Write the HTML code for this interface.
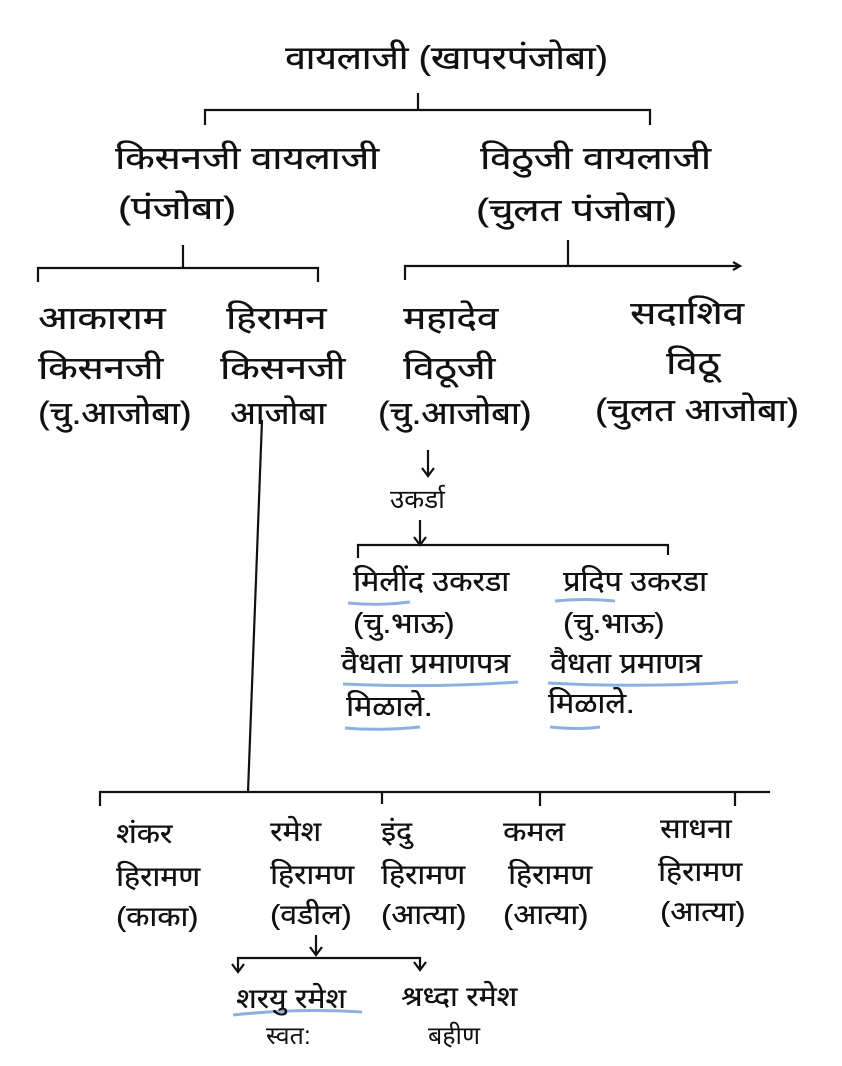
<!DOCTYPE html>
<html><head><meta charset="utf-8"><style>
html,body{margin:0;padding:0;background:#fff;}
body{width:842px;height:1066px;position:relative;overflow:hidden;font-family:"Liberation Sans",sans-serif;color:#111;}
.t{position:absolute;white-space:nowrap;font-size:28px;line-height:34px;transform-origin:0 50%;}
.u{font-size:32px;line-height:38px;transform:scaleX(1.2);text-shadow:0.4px 0 0 #111;}
.m{font-size:29px;transform:scaleX(1.05);text-shadow:0.4px 0 0 #111;}
.l{font-size:28px;transform:scaleX(1.08);text-shadow:0.3px 0 0 #111;}
.b{font-size:33px;line-height:40px;transform:scaleX(1.12);text-shadow:0.4px 0 0 #111;}
svg{position:absolute;left:0;top:0;}
</style></head><body>
<svg width="842" height="1066" stroke="#111" stroke-width="2.2" fill="none">
<path d="M205 125 V110 H650 V125 M418 110 V93"/>
<path d="M38 282 V268 H318 V282 M183 268 V245"/>
<path d="M405 280 V266 H740 M568 266 V240 M733 262 l7 4 -7 4"/>
<path d="M428 450 V476 M422 468 l6 8 6 -8"/>
<path d="M358 558 V545 H668 V555 M420 520 V545 M414 537 l6 8 6 -8"/>
<path d="M262 420 L248 792"/>
<path d="M100 806 V792 H770 M540 792 V806 M735 792 V806 M382 792 V804"/>
<path d="M316 935 V955 M310 947 l6 8 6 -8"/>
<path d="M238 972 V958 H420 V970 M232 964 l6 8 6-8 M414 962 l6 8 6-8"/>
<g stroke="#5b8fd6" stroke-width="3" opacity="0.7">
<path d="M348 603 Q380 606 410 602"/>
<path d="M555 601 Q585 598 615 601"/>
<path d="M343 684 Q430 688 518 682"/>
<path d="M548 683 Q640 688 738 682"/>
<path d="M345 728 Q380 731 420 727"/>
<path d="M550 727 Q580 730 600 727"/>
<path d="M233 1015 Q300 1008 362 1012"/>
</g>
</svg>
<div class="t b" style="left:285px;top:38px;">वायलाजी (खापरपंजोबा)</div>
<div class="t u" style="left:115px;top:139px;">किसनजी वायलाजी</div>
<div class="t u" style="left:118px;top:189px;">(पंजोबा)</div>
<div class="t u" style="left:480px;top:139px;">विठुजी वायलाजी</div>
<div class="t u" style="left:476px;top:191px;">(चुलत पंजोबा)</div>
<div class="t u" style="left:38px;top:299px;">आकाराम</div>
<div class="t u" style="left:38px;top:349px;">किसनजी</div>
<div class="t u" style="left:38px;top:394px;transform:scaleX(1.08)">(चु.आजोबा)</div>
<div class="t u" style="left:226px;top:299px;">हिरामन</div>
<div class="t u" style="left:220px;top:349px;">किसनजी</div>
<div class="t u" style="left:230px;top:394px;transform:scaleX(1.05)">आजोबा</div>
<div class="t u" style="left:403px;top:299px;">महादेव</div>
<div class="t u" style="left:403px;top:349px;">विठूजी</div>
<div class="t u" style="left:378px;top:394px;transform:scaleX(1.08)">(चु.आजोबा)</div>
<div class="t u" style="left:630px;top:294px;">सदाशिव</div>
<div class="t u" style="left:666px;top:344px;">विठू</div>
<div class="t u" style="left:595px;top:391px;transform:scaleX(1.12)">(चुलत आजोबा)</div>
<div class="t" style="left:390px;top:482px;font-size:26px;">उकर्डा</div>
<div class="t m" style="left:353px;top:565px;">मिलींद उकरडा</div>
<div class="t m" style="left:353px;top:607px;">(चु.भाऊ)</div>
<div class="t m" style="left:341px;top:647px;">वैधता प्रमाणपत्र</div>
<div class="t m" style="left:346px;top:690px;">मिळाले.</div>
<div class="t m" style="left:563px;top:565px;">प्रदिप उकरडा</div>
<div class="t m" style="left:563px;top:607px;">(चु.भाऊ)</div>
<div class="t m" style="left:550px;top:647px;">वैधता प्रमाणत्र</div>
<div class="t m" style="left:548px;top:687px;">मिळाले.</div>
<div class="t l" style="left:116px;top:817px;">शंकर</div>
<div class="t l" style="left:116px;top:860px;">हिरामण</div>
<div class="t l" style="left:116px;top:900px;">(काका)</div>
<div class="t l" style="left:270px;top:815px;">रमेश</div>
<div class="t l" style="left:270px;top:858px;">हिरामण</div>
<div class="t l" style="left:270px;top:898px;">(वडील)</div>
<div class="t l" style="left:381px;top:815px;">इंदु</div>
<div class="t l" style="left:381px;top:858px;">हिरामण</div>
<div class="t l" style="left:381px;top:898px;">(आत्या)</div>
<div class="t l" style="left:503px;top:815px;">कमल</div>
<div class="t l" style="left:508px;top:858px;">हिरामण</div>
<div class="t l" style="left:503px;top:898px;">(आत्या)</div>
<div class="t l" style="left:660px;top:812px;">साधना</div>
<div class="t l" style="left:658px;top:855px;">हिरामण</div>
<div class="t l" style="left:660px;top:895px;">(आत्या)</div>
<div class="t l" style="left:236px;top:982px;">शरयु रमेश</div>
<div class="t" style="left:266px;top:1019px;font-size:25px;">स्वत:</div>
<div class="t l" style="left:401px;top:980px;">श्रध्दा रमेश</div>
<div class="t" style="left:428px;top:1019px;font-size:25px;">बहीण</div>
</body></html>
